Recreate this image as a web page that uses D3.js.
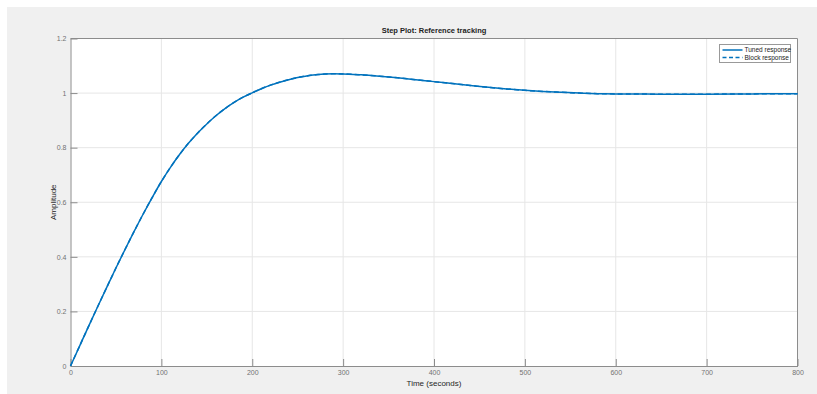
<!DOCTYPE html>
<html>
<head>
<meta charset="utf-8">
<script src="https://cdn.jsdelivr.net/npm/d3@7/dist/d3.min.js"></script>
<style>
  body { margin: 0; background: #fff; }
  svg text { font-family: "Liberation Sans Narrow", "Liberation Sans", Arial, sans-serif; }
</style>
</head>
<body>
<svg id="chart" width="817" height="394"></svg>
<script>
// step response
var times = [0, 10, 20, 30, 40, 50, 60, 70, 80, 90, 100, 110, 120, 130, 140, 150, 160, 170, 180, 190,
    200, 210, 220, 230, 240, 250, 260, 270, 280, 290, 300, 320, 340, 360, 380, 400, 420, 440, 460, 480,
    500, 520, 540, 560, 580, 600, 650, 700, 750, 800];
var tuned = [0, 0.073, 0.146, 0.218, 0.289, 0.359, 0.427, 0.493, 0.557, 0.618, 0.676, 0.728, 0.775, 0.817, 0.854, 0.887, 0.917, 0.943, 0.966, 0.985,
    1.001, 1.016, 1.029, 1.040, 1.049, 1.057, 1.063, 1.067, 1.070, 1.071, 1.070, 1.067, 1.062, 1.056, 1.049, 1.042, 1.035, 1.028, 1.021, 1.015,
    1.010, 1.006, 1.003, 1.0, 0.998, 0.997, 0.996, 0.996, 0.997, 0.998];
var block = tuned.slice();
var xTicks = [0, 100, 200, 300, 400, 500, 600, 700, 800];
var yTicks = [0, 0.2, 0.4, 0.6, 0.8, 1, 1.2];
var seriesNames = ['Tuned response', 'Block response'];

(function() {
    var svg = d3.select('#chart');
    var blue = '#0072bd',
        axisGray = '#8c8c8c',
        textGray = '#727272';

    svg.append('rect')
        .attr('x', 7).attr('y', 7)
        .attr('width', 810).attr('height', 387)
        .attr('fill', '#f0f0f0');

    var pL = 70.5, pR = 797.5, pT = 38.5, pB = 366;
    var x = d3.scaleLinear().domain([0, 800]).range([pL, pR]);
    var y = d3.scaleLinear().domain([0, 1.2]).range([pB, pT]);

    svg.append('rect')
        .attr('x', pL).attr('y', pT)
        .attr('width', pR - pL).attr('height', pB - pT)
        .attr('fill', '#fff');

    // grid
    svg.append('g').selectAll('line').data(xTicks.slice(1, -1)).enter().append('line')
        .attr('x1', d => x(d)).attr('x2', d => x(d))
        .attr('y1', pT).attr('y2', pB)
        .attr('stroke', '#e6e6e6').attr('stroke-width', 1);
    svg.append('g').selectAll('line').data(yTicks.slice(1, -1)).enter().append('line')
        .attr('x1', pL).attr('x2', pR)
        .attr('y1', d => y(d)).attr('y2', d => y(d))
        .attr('stroke', '#e6e6e6').attr('stroke-width', 1);

    // axes
    var xAxis = d3.axisBottom(x).tickValues(xTicks).tickSizeInner(-7).tickSizeOuter(0).tickPadding(4);
    var yAxis = d3.axisLeft(y).tickValues(yTicks).tickSizeInner(-7).tickSizeOuter(0).tickPadding(4)
        .tickFormat(d3.format('~g'));

    var gx = svg.append('g').attr('transform', 'translate(0,' + pB + ')').call(xAxis);
    var gy = svg.append('g').attr('transform', 'translate(' + pL + ',0)').call(yAxis);
    [gx, gy].forEach(function(g) {
        g.select('.domain').attr('stroke', axisGray);
        g.selectAll('.tick line').attr('stroke', axisGray);
        g.selectAll('.tick text').attr('fill', textGray).style('font-size', '7px');
    });

    // box top / right
    svg.append('path')
        .attr('d', 'M' + pL + ',' + pT + 'H' + pR + 'V' + pB)
        .attr('fill', 'none').attr('stroke', axisGray);

    // lines
    var line = d3.line()
        .x((d, i) => x(times[i]))
        .y(d => y(d))
        .curve(d3.curveCatmullRom);

    svg.append('path').datum(tuned)
        .attr('d', line).attr('fill', 'none')
        .attr('stroke', blue).attr('stroke-width', 1.5);
    svg.append('path').datum(block)
        .attr('d', line).attr('fill', 'none')
        .attr('stroke', blue).attr('stroke-width', 1.5)
        .attr('stroke-dasharray', '5,3');

    // labels
    svg.append('text')
        .attr('x', (pL + pR) / 2).attr('y', 33)
        .attr('text-anchor', 'middle')
        .style('font-size', '7.5px').style('font-weight', 'bold')
        .attr('fill', '#222')
        .text('Step Plot: Reference tracking');
    svg.append('text')
        .attr('x', (pL + pR) / 2).attr('y', 386)
        .attr('text-anchor', 'middle')
        .style('font-size', '8px').attr('fill', '#262626')
        .text('Time (seconds)');
    svg.append('text')
        .attr('transform', 'translate(56,' + (pT + pB) / 2 + ') rotate(-90)')
        .attr('text-anchor', 'middle')
        .style('font-size', '8px').attr('fill', '#262626')
        .text('Amplitude');

    // legend
    var lg = svg.append('g').attr('transform', 'translate(719.5,44.5)');
    lg.append('rect').attr('width', 71).attr('height', 18)
        .attr('fill', '#fff').attr('stroke', '#999');
    lg.selectAll('line').data(seriesNames).enter().append('line')
        .attr('x1', 3).attr('x2', 23)
        .attr('y1', (d, i) => 5.5 + i * 7.5).attr('y2', (d, i) => 5.5 + i * 7.5)
        .attr('stroke', blue).attr('stroke-width', 1.5)
        .attr('stroke-dasharray', (d, i) => i ? '4,2.5' : null);
    lg.selectAll('text').data(seriesNames).enter().append('text')
        .attr('x', 25).attr('y', (d, i) => 7.8 + i * 7.5)
        .style('font-size', '6.5px').attr('fill', '#222')
        .text(d => d);
})();
</script>
</body>
</html>
